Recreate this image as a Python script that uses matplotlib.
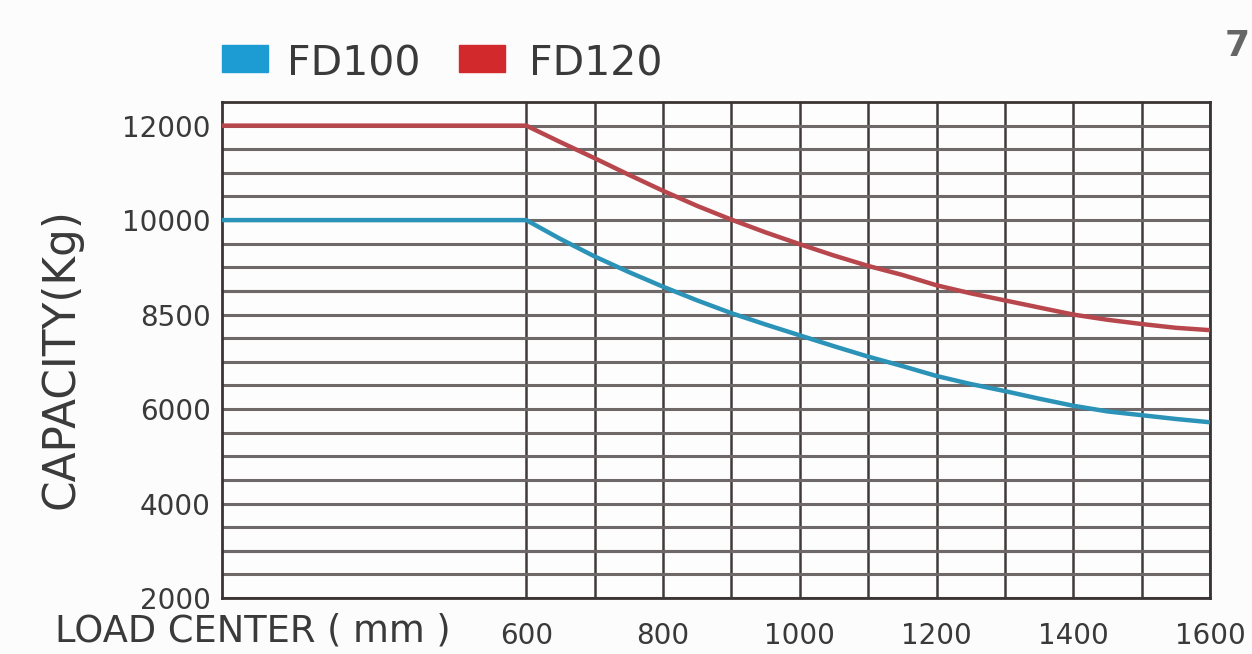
import numpy as np
import matplotlib.pyplot as plt
from matplotlib.patches import Rectangle
from matplotlib.ticker import FixedLocator

# values
load_center = [155, 600, 650, 700, 750, 800, 850, 900, 950, 1000, 1050,
               1100, 1150, 1200, 1250, 1300, 1350, 1400, 1450, 1500, 1550, 1600]
fd100 = [10000, 10000, 9600, 9230, 8900, 8590, 8300, 8030, 7790, 7560, 7330,
         7110, 6910, 6700, 6530, 6380, 6220, 6070, 5950, 5870, 5790, 5720]
fd120 = [12000, 12000, 11650, 11310, 10960, 10620, 10300, 10010, 9740, 9490, 9250,
         9030, 8840, 8620, 8450, 8300, 8150, 8000, 7890, 7800, 7720, 7670]

series_names = ['FD100', 'FD120']
line_colors = ['#2b93b8', '#b8474d']
legend_colors = ['#1d9bd3', '#d2292c']

xtick_vals = [600, 800, 1000, 1200, 1400, 1600]
xgrid_minor = [700, 900, 1100, 1300, 1500]
ytick_vals = [2000, 4000, 6000, 8000, 10000, 12000]
ytick_labels = ['2000', '4000', '6000', '8500', '10000', '12000']
dark_levels = [8500, 3000]

W, H = 1252, 654
fig = plt.figure(figsize=(W / 100, H / 100), dpi=100)
fig.patch.set_facecolor('#fcfcfc')
ax = fig.add_axes([222 / W, 1 - 598 / H, (1210 - 222) / W, (598 - 102) / H])
ax.set_facecolor('#fdfdfd')

ax.set_xlim(load_center[0], 1600)
ax.set_ylim(2000, 12500)

# grid: vertical lines only from 600 on, horizontal every 500 kg
ax.set_xticks(xtick_vals)
ax.xaxis.set_minor_locator(FixedLocator(xgrid_minor))
ax.set_yticks(ytick_vals)
ax.yaxis.set_minor_locator(FixedLocator(np.arange(2500, 12500, 500)))
ax.grid(axis='y', which='both', color='#6e6868', lw=2.2, zorder=1)
ax.grid(axis='x', which='both', color='#403a3a', lw=1.8, zorder=1)
for lv in dark_levels:
    ax.axhline(lv, color='#302c2c', lw=2.2, zorder=1.5)

for s in ax.spines.values():
    s.set_color('#3a3434')
    s.set_linewidth(2)

for ys, c in zip([fd100, fd120], line_colors):
    ax.plot(load_center, ys, color=c, lw=3.2, zorder=3, solid_capstyle='butt')

ax.tick_params(which='both', length=0)
ax.tick_params(axis='x', pad=17, labelsize=20, labelcolor='#3a3a3a')
ax.tick_params(axis='y', pad=8, labelsize=20, labelcolor='#3a3a3a')
ax.set_yticklabels(ytick_labels)
ax.set_xticklabels([str(v) for v in xtick_vals])

# axis titles
fig.text(61 / W, 1 - 359 / H, 'CAPACITY(Kg)', rotation=90, ha='center', va='center',
         fontsize=31.5, color='#3a3a3a')
fig.text(55 / W, 1 - 642 / H, 'LOAD CENTER ( mm )', ha='left', va='baseline',
         fontsize=26.5, color='#3a3a3a')

# legend
rect_x = [222, 459]
text_x = [287, 529]
for name, c, rx, tx in zip(series_names, legend_colors, rect_x, text_x):
    fig.patches.append(Rectangle((rx / W, 1 - 72 / H), 46 / W, 27 / H,
                                 transform=fig.transFigure, color=c))
    fig.text(tx / W, 1 - 75 / H, name, ha='left', va='baseline',
             fontsize=29.5, color='#3a3a3a')

# glyph at the top right corner (cut off in the source image)
fig.text(1250 / W, 1 - 56 / H, '7', ha='right', va='baseline', fontsize=26,
         fontweight='bold', color='#666666')

fig.savefig('out.png', dpi=100, facecolor=fig.get_facecolor())
